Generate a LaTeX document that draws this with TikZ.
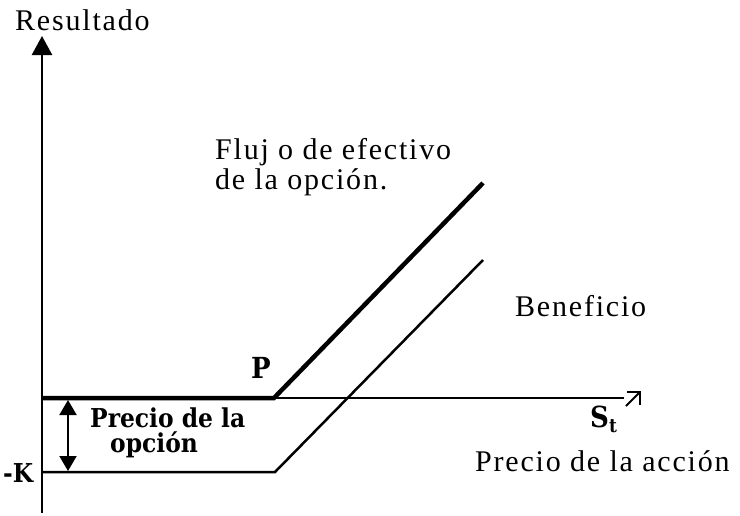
\documentclass[tikz,border=0pt]{standalone}
\usepackage{fontspec}
\setmainfont{Liberation Serif}[LetterSpace=6]
\newfontfamily\labfont{DejaVu Serif Condensed}
\usetikzlibrary{arrows.meta}

\begin{document}
\begin{tikzpicture}[x=1pt,y=-1pt,
  axis/.style={line width=2.5pt},
  payoff/.style={line width=4.5pt},
  txt/.style={anchor=base west,inner sep=0pt,font=\fontsize{30}{30}\selectfont},
  boldlab/.style={anchor=base west,inner sep=0pt,font=\labfont\bfseries\fontsize{26}{30}\selectfont}]
  \useasboundingbox (0,0) rectangle (740,515);
  % Points
  \coordinate (O) at (42,398);
  \coordinate (ytop) at (42,36);
  \coordinate (ybot) at (42,513);
  \coordinate (xend) at (624,398);
  \coordinate (tipA) at (626,406);
  \coordinate (tipB) at (641,391);
  \coordinate (strike) at (274,398);
  \coordinate (flowend) at (483,183);
  \coordinate (kleft) at (42,472);
  \coordinate (kknee) at (275,472);
  \coordinate (profend) at (483,260);
  \coordinate (premtop) at (68,400);
  \coordinate (prembot) at (68,471);
  % Axes
  \draw[axis,-{Triangle[width=20pt,length=19pt]}] (ybot) -- (ytop);
  \draw[axis] (O) -- (xend);
  \draw[line width=2pt,-{Straight Barb[angle=90:13pt]}] (tipA) -- (tipB);
  % Payoff lines
  \draw[payoff] (O) -- (strike) -- (flowend);
  \draw[axis] (kleft) -- (kknee) -- (profend);
  % Option price
  \draw[line width=2pt,{Triangle[width=17pt,length=15pt]}-{Triangle[width=17pt,length=15pt]}] (premtop) -- (prembot);
  % Labels
  \node[txt] (res) at (15,30) {Resultado};
  \node[txt,align=left] (flujo) at (215,189) {Fluj o de efectivo\\de la opción.};
  \node[txt] (ben) at (515,316) {Beneficio};
  \node[txt] (acc) at (475,471) {Precio de la acción};
  \node[boldlab,font=\labfont\bfseries\fontsize{29}{30}\selectfont] (plab) at (251,378) {P};
  \node[boldlab,font=\labfont\bfseries\fontsize{29}{30}\selectfont] (st) at (590,427) {S\raisebox{-5pt}{\fontsize{19}{19}\selectfont t}};
  \node[boldlab] (prem1) at (90,427) {Precio de la};
  \node[boldlab] (prem2) at (110,452) {opción};
  \node[boldlab] (klab) at (3,482) {-K};
\end{tikzpicture}
\end{document}
